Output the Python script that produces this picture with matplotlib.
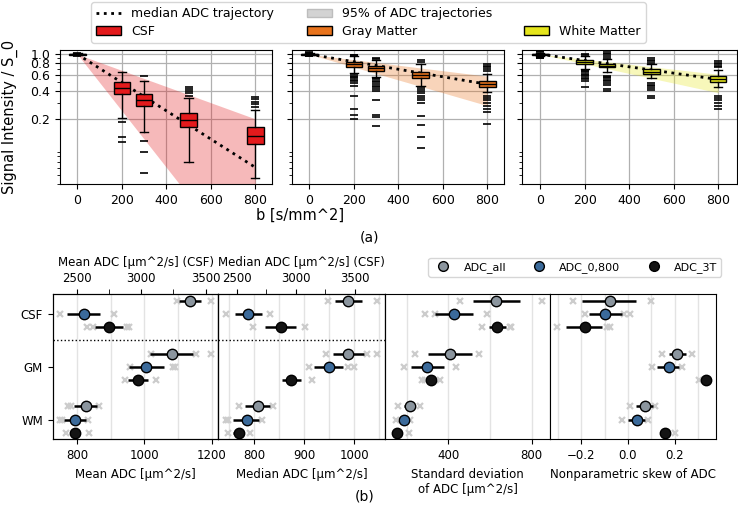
import matplotlib
matplotlib.use("Agg")
import matplotlib.pyplot as plt
import numpy as np
from matplotlib.lines import Line2D
from matplotlib.patches import Patch
from matplotlib.ticker import NullFormatter


# ---------------- (a) signal decay per tissue ----------------
b_values = [0, 200, 300, 500, 800]
tissue_names = ["CSF", "Gray Matter", "White Matter"]
tissue_colors = ["#e41a1c", "#e8731c", "#e5e51c"]

# median / 2.5% / 97.5% ADC in mm^2/s, used for the trajectories
adc_median = [3.5e-3, 0.93e-3, 0.78e-3]
adc_p025 = [2.0e-3, 0.68e-3, 0.62e-3]
adc_p975 = [7.0e-3, 1.59e-3, 1.19e-3]

csf_med = [1.0, 0.436, 0.326, 0.198, 0.133]
csf_q1 = [0.99, 0.376, 0.276, 0.165, 0.108]
csf_q3 = [1.01, 0.502, 0.376, 0.234, 0.167]
csf_whislo = [0.975, 0.207, 0.147, 0.069, 0.047]
csf_whishi = [1.025, 0.65, 0.514, 0.34, 0.25]
csf_fliers = [[0.965, 1.035], [0.185, 0.128, 0.113], [0.58, 0.116, 0.089, 0.053],
              [0.36, 0.38, 0.40, 0.42, 0.44], [0.27, 0.29, 0.31, 0.33, 0.35]]

gm_med = [1.0, 0.78, 0.706, 0.60, 0.48]
gm_q1 = [0.99, 0.73, 0.66, 0.56, 0.447]
gm_q3 = [1.01, 0.827, 0.748, 0.644, 0.514]
gm_whislo = [0.97, 0.634, 0.574, 0.455, 0.39]
gm_whishi = [1.03, 0.95, 0.86, 0.78, 0.62]
gm_fliers = [[0.95, 0.96, 1.04, 1.05],
             [0.97, 0.99, 0.61, 0.59, 0.57, 0.55, 0.53, 0.51, 0.49, 0.46, 0.354, 0.26, 0.22, 0.2],
             [0.89, 0.92, 0.56, 0.54, 0.52, 0.50, 0.48, 0.46, 0.44, 0.42, 0.40, 0.326, 0.224, 0.21, 0.17],
             [0.83, 0.86, 0.44, 0.42, 0.40, 0.38, 0.36, 0.34, 0.32, 0.30, 0.216, 0.175, 0.13, 0.098],
             [0.66, 0.69, 0.72, 0.75, 0.78, 0.36, 0.34, 0.32, 0.30, 0.28, 0.26, 0.24, 0.178]]

wm_med = [1.0, 0.82, 0.755, 0.65, 0.537]
wm_q1 = [0.99, 0.78, 0.72, 0.61, 0.50]
wm_q3 = [1.01, 0.86, 0.79, 0.69, 0.58]
wm_whislo = [0.96, 0.70, 0.64, 0.55, 0.44]
wm_whishi = [1.04, 0.95, 0.88, 0.79, 0.68]
wm_fliers = [[0.90, 0.92, 0.94, 1.06, 1.08],
             [0.97, 1.0, 0.68, 0.66, 0.64, 0.62, 0.60, 0.58, 0.56, 0.54, 0.52, 0.447],
             [0.92, 0.96, 1.0, 1.04, 1.08, 0.59, 0.57, 0.55, 0.53, 0.51, 0.49, 0.47, 0.42, 0.40],
             [0.81, 0.84, 0.87, 0.90, 0.49, 0.47, 0.45, 0.43, 0.41, 0.36, 0.34],
             [0.72, 0.75, 0.78, 0.81, 0.85, 0.36, 0.34, 0.32, 0.30, 0.28, 0.26]]

box_stats = [
    (csf_med, csf_q1, csf_q3, csf_whislo, csf_whishi, csf_fliers),
    (gm_med, gm_q1, gm_q3, gm_whislo, gm_whishi, gm_fliers),
    (wm_med, wm_q1, wm_q3, wm_whislo, wm_whishi, wm_fliers),
]

# ---------------- (b) ADC summary statistics ----------------
row_names = ["CSF", "GM", "WM"]
method_names = ["ADC_all", "ADC_0,800", "ADC_3T"]
method_colors = ["#8b959e", "#3b6a9a", "#141414"]

# rows: CSF, GM, WM ; columns: ADC_all, ADC_0,800, ADC_3T  (CSF on the top axis)
mean_center = [[3378, 2557, 2753], [1081, 1004, 980], [825, 793, 793]]
mean_low = [[3295, 2427, 2642], [1018, 954, 950], [791, 761, 778]]
mean_high = [[3461, 2681, 2861], [1145, 1059, 1010], [858, 826, 806]]
mean_spread = [[[3280, 3539], [2371, 2789], [2582, 2624, 2892, 2905]],
               [[1021, 1153, 1197], [957, 1084, 1091], [942, 1034]],
               [[773, 780, 865], [749, 754, 833], [768, 836]]]

median_center = [[3443, 2593, 2874], [988, 949, 873], [807, 785, 769]]
median_low = [[3331, 2486, 2739], [958, 920, 856], [781, 758, 758]]
median_high = [[3562, 2711, 3001], [1020, 978, 893], [831, 810, 777]]
median_spread = [[[3274, 3683], [2407, 2781], [2635, 3077]],
                 [[943, 1025, 1045], [909, 987, 1000], [915]],
                 [[769, 838], [743, 747, 815], [747, 791]]]

sd_center = [[630, 427, 634], [407, 299, 318], [215, 186, 154]]
sd_low = [[519, 338, 595], [303, 222, 294], [187, 170, 135]]
sd_high = [[743, 519, 678], [514, 379, 340], [242, 202, 170]]
sd_spread = [[[458, 851], [287, 335, 586], [563, 695, 702]],
             [[242, 547], [186, 438], [275, 287, 359]],
             [[158, 266], [147, 218], [211]]]

skew_center = [[-0.078, -0.097, -0.186], [0.211, 0.174, 0.333], [0.071, 0.039, 0.157]]
skew_low = [[-0.196, -0.169, -0.264], [0.174, 0.126, 0.326], [0.036, 0.0, 0.14]]
skew_high = [[0.036, -0.026, -0.11], [0.25, 0.217, 0.340], [0.107, 0.074, 0.171]]
skew_spread = [[[-0.236, 0.1], [-0.183, -0.017, 0.007], [-0.303, -0.089, -0.079]],
               [[0.147, 0.274], [0.103, 0.231], [0.303]],
               [[0.007, 0.117], [-0.026, 0.086], [0.2]]]

row_offsets = [-0.25, 0.0, 0.25]

W, H = 738, 508
fig = plt.figure(figsize=(W / 100, H / 100), dpi=100)


def px_axes(left, top, right, bottom):
    return fig.add_axes([left / W, 1 - bottom / H, (right - left) / W, (bottom - top) / H])


def draw_decay(ax, idx):
    med, q1, q3, wlo, whi, fl = box_stats[idx]
    color = tissue_colors[idx]
    b_line = np.array([b_values[0], b_values[-1]], dtype=float)
    ax.fill_between(b_line, np.exp(-b_line * adc_p975[idx]), np.exp(-b_line * adc_p025[idx]),
                    color=color, alpha=0.3, lw=0, zorder=1)
    ax.plot(b_line, np.exp(-b_line * adc_median[idx]), ls=":", color="k", lw=2, zorder=2)
    stats = []
    for i in range(len(b_values)):
        stats.append(dict(med=med[i], q1=q1[i], q3=q3[i], whislo=wlo[i], whishi=whi[i], fliers=fl[i]))
    ax.bxp(stats, positions=b_values, widths=75, patch_artist=True, manage_ticks=False,
           boxprops=dict(facecolor=color, edgecolor="k", lw=1),
           medianprops=dict(color="k", lw=1),
           whiskerprops=dict(color="k", lw=1), capprops=dict(color="k", lw=1),
           flierprops=dict(marker="_", markeredgecolor="k", markersize=6, mew=1.2),
           zorder=3)
    ax.set_yscale("log")
    ax.set_ylim(0.04, 1.11)
    ax.set_xlim(-78, 875)
    ax.set_xticks([0, 200, 400, 600, 800])
    ax.set_yticks([0.2, 0.4, 0.6, 0.8, 1.0])
    ax.yaxis.set_minor_formatter(NullFormatter())
    ax.grid(True, which="major", color="#b0b0b0", lw=0.9)
    ax.set_axisbelow(True)
    ax.tick_params(labelsize=9)


top_axes = [px_axes(60, 50, 272, 184.3), px_axes(292, 50, 504, 184.3), px_axes(522, 50, 737, 184.3)]
for k, ax in enumerate(top_axes):
    draw_decay(ax, k)
    if k == 0:
        ax.set_yticklabels(["0.2", "0.4", "0.6", "0.8", "1.0"])
        ax.set_ylabel("Signal Intensity / S_0", fontsize=10.5, labelpad=9)
    else:
        ax.tick_params(labelleft=False)
top_axes[2].set_xlim(-82, 885)

fig.text(300 / W, 1 - 215 / H, "b [s/mm^2]", ha="center", va="center", fontsize=10.5)
fig.text(370 / W, 1 - 237 / H, "(a)", ha="center", va="center", fontsize=10)

legend_handles = [
    Line2D([], [], ls=":", color="k", lw=2),
    Patch(facecolor=tissue_colors[0], edgecolor="k"),
    Patch(facecolor="#d3d3d3", edgecolor="#bdbdbd"),
    Patch(facecolor=tissue_colors[1], edgecolor="k"),
    Line2D([], [], color="none"),
    Patch(facecolor=tissue_colors[2], edgecolor="k"),
]
legend_labels = ["median ADC trajectory", tissue_names[0], "95% of ADC trajectories",
                 tissue_names[1], "", tissue_names[2]]
fig.legend(legend_handles, legend_labels, ncol=3, loc="upper center",
           bbox_to_anchor=(368.5 / W, 1 - 1 / H), fontsize=9, columnspacing=2.6,
           labelspacing=0.35, borderpad=0.4, borderaxespad=0.1)


# ---------------- bottom row ----------------
def draw_metric(ax, ax_csf, centers, lows, highs, spread):
    for t in range(3):
        target = ax_csf if (t == 0 and ax_csf is not None) else ax
        for m in range(3):
            y = t + row_offsets[m]
            xs = spread[t][m]
            target.plot(xs, [y] * len(xs), ls="none", marker="x", color="#cccccc",
                        ms=4, mew=1.6, zorder=1)
            target.plot([lows[t][m], highs[t][m]], [y, y], color="k", lw=1.8,
                        solid_capstyle="butt", zorder=2)
            target.plot(centers[t][m], y, ls="none", marker="o", ms=7.5,
                        mfc=method_colors[m], mec="k", mew=1, zorder=3)


bottom_edges = [52.7, 218.3, 385, 550, 716]
bot_axes = []
for i in range(4):
    bot_axes.append(px_axes(bottom_edges[i], 294.3, bottom_edges[i + 1], 439.3))

metrics = [
    (mean_center, mean_low, mean_high, mean_spread),
    (median_center, median_low, median_high, median_spread),
    (sd_center, sd_low, sd_high, sd_spread),
    (skew_center, skew_low, skew_high, skew_spread),
]
xlims = [(727, 1220), (728, 1061), (96, 888), (-0.334, 0.377)]
major_ticks = [[800, 1000, 1200], [800, 900, 1000], [400, 800], [-0.2, 0.0, 0.2]]
minor_ticks = [[900, 1100], [750, 850, 950, 1050], [200, 600], [-0.3, -0.1, 0.1, 0.3]]
xlabels = ["Mean ADC [µm^2/s]", "Median ADC [µm^2/s]",
           "Standard deviation\nof ADC [µm^2/s]", "Nonparametric skew of ADC"]
top_xlims = [(2314, 3598), (2344, 3754)]
top_labels = ["Mean ADC [µm^2/s] (CSF)", "Median ADC [µm^2/s] (CSF)"]

for i, ax in enumerate(bot_axes):
    ax_csf = None
    if i < 2:
        ax_csf = ax.twiny()
        ax_csf.set_xlim(*top_xlims[i])
        ax_csf.set_xticks([2500, 3000, 3500])
        ax_csf.set_xticks([2750, 3250], minor=True)
        ax_csf.tick_params(which="minor", length=3.5)
        ax_csf.tick_params(labelsize=8.5)
        ax_csf.set_xlabel(top_labels[i], fontsize=8.5)
    draw_metric(ax, ax_csf, *metrics[i])
    ax.set_xlim(*xlims[i])
    ax.set_xticks(major_ticks[i])
    ax.set_xticks(minor_ticks[i], minor=True)
    ax.tick_params(which="minor", length=0)
    ax.grid(True, axis="x", which="both", color="#e3e3e3", lw=1)
    ax.set_axisbelow(True)
    ax.set_ylim(2.37, -0.37)
    ax.set_yticks([0, 1, 2])
    ax.tick_params(labelsize=8.5)
    ax.set_xlabel(xlabels[i], fontsize=8.5)
    if i == 0:
        ax.set_yticklabels(row_names)
    else:
        ax.tick_params(axis="y", left=False, labelleft=False)
    if i < 2:
        ax.axhline(0.5, color="k", ls=":", lw=1, zorder=4)

method_handles = [Line2D([], [], ls="none", marker="o", ms=7, mfc=c, mec="k", mew=1)
                  for c in method_colors]
fig.legend(method_handles, method_names, ncol=3, loc="upper right",
           bbox_to_anchor=(721 / W, 1 - 258 / H), fontsize=8, borderpad=0.35,
           borderaxespad=0.0)

fig.text(365 / W, 1 - 497 / H, "(b)", ha="center", va="center", fontsize=10)

fig.savefig("out.png", dpi=100)
